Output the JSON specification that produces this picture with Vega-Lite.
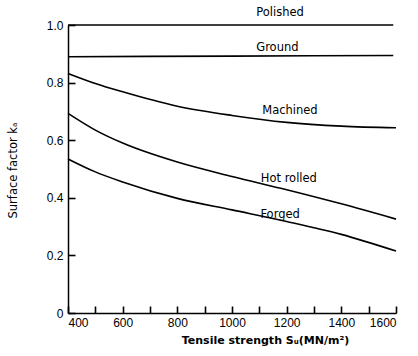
{
  "$schema": "https://vega.github.io/schema/vega-lite/v6.json",
  "width": 328,
  "height": 288,
  "autosize": {"type": "none"},
  "padding": {"left": 68, "top": 25, "right": 22, "bottom": 43},
  "background": "white",
  "config": {
    "view": {"stroke": null},
    "font": "Liberation Sans",
    "axis": {
      "domainColor": "black",
      "domainWidth": 1.5,
      "labelColor": "black",
      "titleColor": "black",
      "labelFontSize": 12,
      "titleFont": "DejaVu Sans",
      "titleFontSize": 11.5,
      "titleFontWeight": "normal",
      "gridOpacity": 0
    }
  },
  "datasets": {
    "curves": [
      {"Su": 400, "ka": 1.0, "s": "Polished"},
      {"Su": 1000, "ka": 1.0, "s": "Polished"},
      {"Su": 1590, "ka": 1.0, "s": "Polished"},
      {"Su": 400, "ka": 0.89, "s": "Ground"},
      {"Su": 1000, "ka": 0.892, "s": "Ground"},
      {"Su": 1590, "ka": 0.894, "s": "Ground"},
      {"Su": 400, "ka": 0.832, "s": "Machined"},
      {"Su": 500, "ka": 0.797, "s": "Machined"},
      {"Su": 600, "ka": 0.768, "s": "Machined"},
      {"Su": 800, "ka": 0.718, "s": "Machined"},
      {"Su": 1000, "ka": 0.686, "s": "Machined"},
      {"Su": 1200, "ka": 0.662, "s": "Machined"},
      {"Su": 1400, "ka": 0.649, "s": "Machined"},
      {"Su": 1600, "ka": 0.643, "s": "Machined"},
      {"Su": 400, "ka": 0.693, "s": "Hot rolled"},
      {"Su": 500, "ka": 0.635, "s": "Hot rolled"},
      {"Su": 600, "ka": 0.59, "s": "Hot rolled"},
      {"Su": 800, "ka": 0.524, "s": "Hot rolled"},
      {"Su": 1000, "ka": 0.474, "s": "Hot rolled"},
      {"Su": 1200, "ka": 0.428, "s": "Hot rolled"},
      {"Su": 1400, "ka": 0.379, "s": "Hot rolled"},
      {"Su": 1600, "ka": 0.326, "s": "Hot rolled"},
      {"Su": 400, "ka": 0.535, "s": "Forged"},
      {"Su": 500, "ka": 0.49, "s": "Forged"},
      {"Su": 600, "ka": 0.455, "s": "Forged"},
      {"Su": 800, "ka": 0.398, "s": "Forged"},
      {"Su": 1000, "ka": 0.358, "s": "Forged"},
      {"Su": 1200, "ka": 0.318, "s": "Forged"},
      {"Su": 1400, "ka": 0.273, "s": "Forged"},
      {"Su": 1600, "ka": 0.215, "s": "Forged"}
    ],
    "labels": [
      {"Su": 1176, "ka": 1.042, "t": "Polished"},
      {"Su": 1166, "ka": 0.92, "t": "Ground"},
      {"Su": 1212, "ka": 0.701, "t": "Machined"},
      {"Su": 1208, "ka": 0.465, "t": "Hot rolled"},
      {"Su": 1176, "ka": 0.34, "t": "Forged"}
    ]
  },
  "encoding": {
    "x": {
      "field": "Su", "type": "quantitative",
      "scale": {"domain": [400, 1600], "nice": false},
      "axis": {"format": "d", "tickColor": "black", "tickWidth": 1.6, "tickSize": -7, "labelPadding": 11, "title": "Tensile strength  Sᵤ(MN/m²)", "titleFontWeight": "bold", "titleFontSize": 11, "titlePadding": 6, "titleX": 197}
    },
    "y": {
      "field": "ka", "type": "quantitative",
      "scale": {"domain": [0, 1.0], "nice": false},
      "axis": {"tickCount": 5, "tickColor": "black", "tickWidth": 1.6, "tickSize": -7, "labelPadding": 12, "labelExpr": "datum.value == 0 ? '0' : format(datum.value, '.1f')", "title": "Surface factor kₐ", "titleX": -50, "titleY": 145}
    }
  },
  "layer": [
    {
      "data": {"name": "curves"},
      "mark": {"type": "line", "interpolate": "monotone", "strokeWidth": 1.6, "color": "black", "clip": false},
      "encoding": {
        "detail": {"field": "s", "type": "nominal"}
      }
    },
    {
      "data": {"name": "labels"},
      "mark": {"type": "text", "font": "DejaVu Sans", "fontSize": 11.5, "color": "black", "align": "center", "baseline": "middle"},
      "encoding": {
        "text": {"field": "t", "type": "nominal"}
      }
    }
  ]
}
